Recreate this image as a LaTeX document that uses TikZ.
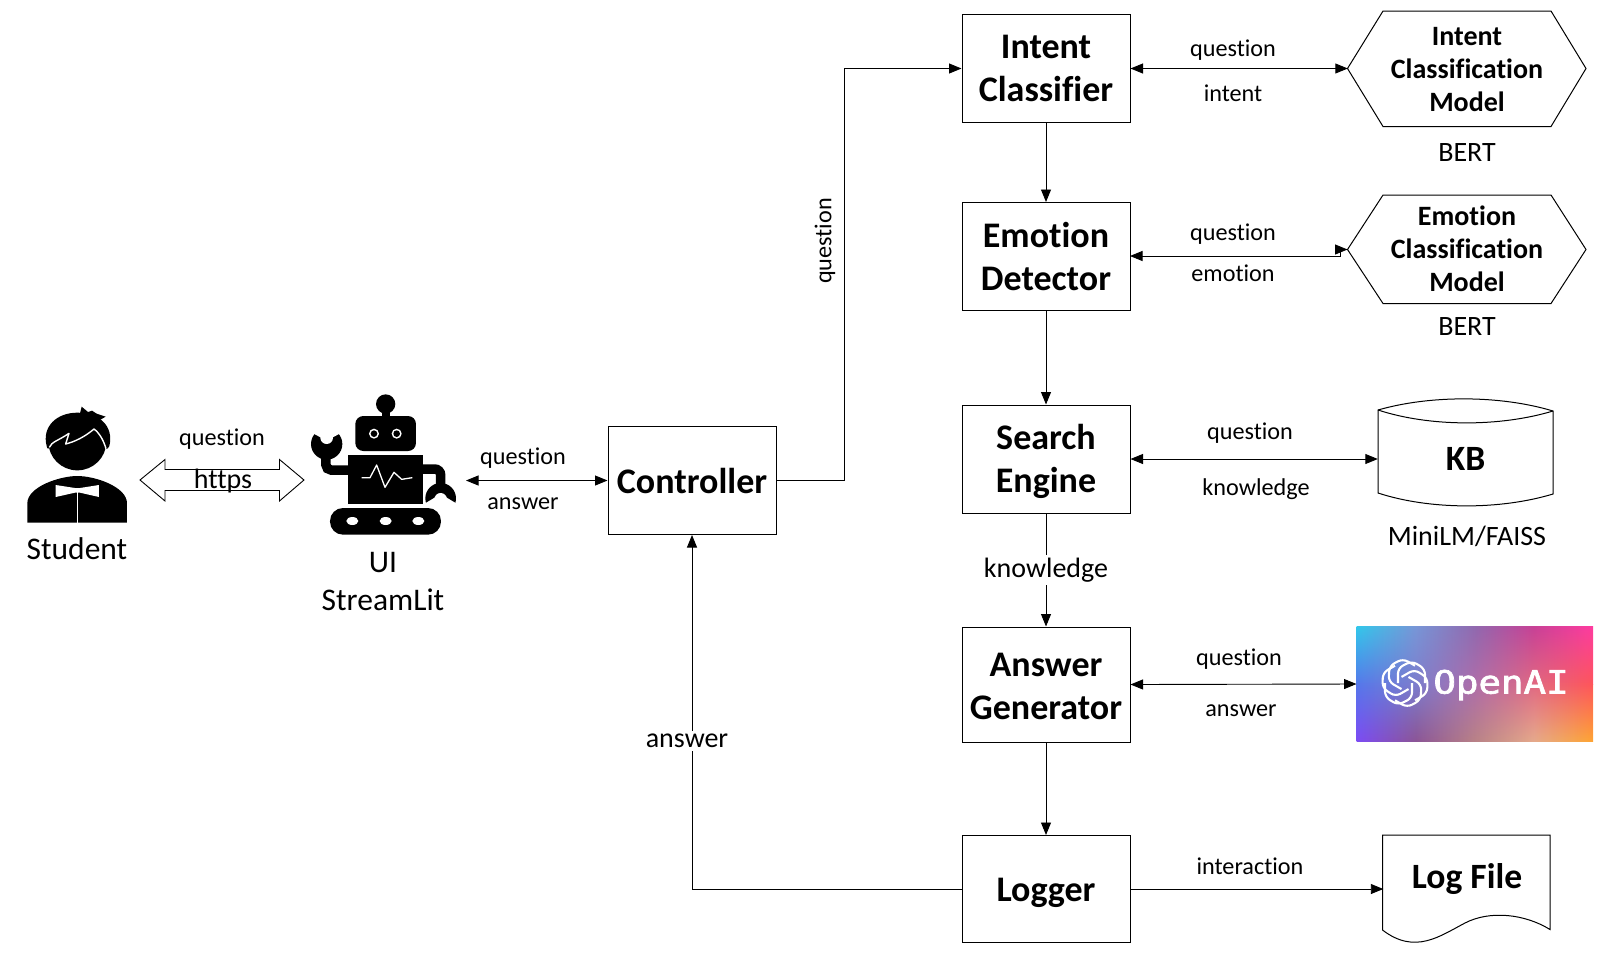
\documentclass[tikz,border=0pt]{standalone}
\usepackage{fontspec}
\setmainfont[Ligatures=NoCommon]{Carlito}
\newfontfamily\logofont[FakeBold=2]{DejaVu Sans Mono}
\usetikzlibrary{arrows.meta,fadings}
\definecolor{ta}{RGB}{50,200,235}\definecolor{tb}{RGB}{120,150,215}\definecolor{tc}{RGB}{145,105,175}\definecolor{td}{RGB}{200,65,150}\definecolor{te}{RGB}{255,60,160}
\definecolor{ma}{RGB}{85,120,235}\definecolor{mb}{RGB}{125,125,205}\definecolor{mc}{RGB}{175,110,170}\definecolor{md}{RGB}{225,105,130}\definecolor{me}{RGB}{255,85,90}
\definecolor{ba}{RGB}{125,75,245}\definecolor{bb}{RGB}{140,85,150}\definecolor{bc}{RGB}{185,130,135}\definecolor{bd}{RGB}{230,170,140}\definecolor{be}{RGB}{255,165,50}
\pgfdeclarehorizontalshading{rowtop}{100bp}{color(0bp)=(ta);color(25bp)=(ta);color(37.5bp)=(tb);color(50bp)=(tc);color(62.5bp)=(td);color(75bp)=(te);color(100bp)=(te)}
\pgfdeclarehorizontalshading{rowmid}{100bp}{color(0bp)=(ma);color(25bp)=(ma);color(37.5bp)=(mb);color(50bp)=(mc);color(62.5bp)=(md);color(75bp)=(me);color(100bp)=(me)}
\pgfdeclarehorizontalshading{rowbot}{100bp}{color(0bp)=(ba);color(25bp)=(ba);color(37.5bp)=(bb);color(50bp)=(bc);color(62.5bp)=(bd);color(75bp)=(be);color(100bp)=(be)}
\tikzset{
  x=1pt,y=-1pt,
  tipa/.tip={Triangle[length=12.5pt,width=10pt]},
  edge/.style={line width=0.9pt,draw=black},
  oneway/.style={edge,-tipa},
  twoway/.style={edge,tipa-tipa},
  box/.style={draw=black,line width=1pt,fill=white,inner sep=0pt,align=center,font=\fontsize{36}{43}\selectfont\bfseries,minimum width=168pt},
  outline/.style={draw=black,line width=1pt},
  modeltext/.style={inner sep=0pt,align=center,font=\fontsize{28}{33}\selectfont\bfseries,minimum width=238pt,minimum height=108pt},
  lab/.style={inner sep=0pt,font=\fontsize{24.2}{27}\selectfont},
  biglab/.style={inner sep=0pt,font=\fontsize{31.5}{38}\selectfont,align=center},
  midlab/.style={biglab,font=\fontsize{28}{30}\selectfont},
  whitelab/.style={midlab,fill=white,inner ysep=3pt},
  filelab/.style={inner sep=0pt,font=\fontsize{35.6}{40}\selectfont\bfseries,minimum height=60pt},
  icon/.style={fill=black,draw=none},
}
\begin{document}
\begin{tikzpicture}
\useasboundingbox (0,0) rectangle (1603,954);

% boxes
\node[box,minimum height=108pt] (intent) at (1046,68.5) {Intent\\Classifier};
\node[box,minimum height=108pt] (emotion) at (1046,256.5) {Emotion\\Detector};
\node[box,minimum height=108pt] (search) at (1046,459) {\rule{0pt}{30.5pt}Search\\Engine};
\node[box,minimum height=115pt] (answergen) at (1046,684.5) {\rule{0pt}{26.5pt}Answer\\Generator};
\node[box,minimum height=107pt,text height=24pt,text depth=0pt] (logger) at (1046,889) {Logger};
\node[box,minimum height=108pt] (ctrl) at (692,480.5) {Controller};

% hexagons
\draw[outline] (1347.5,68.5) -- (1383,11) -- (1551,11) -- (1586,68.5) -- (1551,126.5) -- (1383,126.5) -- cycle;
\node[modeltext] (hexi) at (1467,70) {Intent\\Classification\\Model};
\draw[outline] (1347.5,249.5) -- (1383,195) -- (1551,195) -- (1586,249.5) -- (1551,303.5) -- (1383,303.5) -- cycle;
\node[modeltext] (hexe) at (1467,249) {Emotion\\Classification\\Model};

% KB cylinder
\draw[outline] (1378,410) .. controls (1430,395) and (1500,395) .. (1553,411) -- (1553,494)
  .. controls (1500,510) and (1430,510) .. (1378,493) -- cycle;
\draw[outline] (1378,410) .. controls (1430,427) and (1500,427) .. (1553,411);
\node[filelab,minimum width=175pt] (kb) at (1465.5,459) {KB};

% Log file
\draw[outline] (1382.5,835) -- (1550,835) -- (1550,929.5)
  .. controls (1525,914) and (1490,910) .. (1465,923)
  .. controls (1440,936) and (1415,955) .. (1382.5,930) -- cycle;
\node[filelab,minimum width=167pt] (logfile) at (1467,879) {Log File};

% OpenAI tile
\shade[shading=rowtop] (1356.5,626.5) rectangle (1593,684.5);
\shade[shading=rowmid,path fading=north] (1356.5,626.5) rectangle (1593,684.5);
\shade[shading=rowbot] (1356.5,684) rectangle (1593,741.5);
\shade[shading=rowmid,path fading=south] (1356.5,684) rectangle (1593,741.5);
\coordinate (openai) at (1356.5,684);
\foreach \a in {0,60,...,300}{
  \draw[white,line width=2.1pt,rotate around={\a:(1405,683)},rounded corners=5.5pt]
    (1398,683) -- (1398,668) -- (1412,661) -- (1425,669) -- (1425,683);
}
\node[text=white,inner sep=0pt,font=\logofont\fontsize{32}{32}\selectfont,xscale=1.17] (openaitext) at (1501,685) {OpenAI};

% Student icon
\begin{scope}[shift={(0,370)},scale=1/3]
  \fill[icon] (82,458) -- (82,400) .. controls (82,350) and (180,318) .. (232,318) .. controls (285,318) and (381,350) .. (381,400) -- (381,458) -- cycle;
  \draw[white,line width=1.3pt] (232,356) -- (232,458);
  \fill[white] (167,345) -- (225,354) -- (240,354) -- (297,345) -- (297,381) -- (240,368) -- (225,368) -- (167,381) -- cycle;
  \fill[icon] (232,215) ellipse [x radius=87,y radius=86];
  \fill[icon] (140,228) .. controls (125,170) and (170,128) .. (232,128) .. controls (300,128) and (342,170) .. (328,228) .. controls (322,240) and (316,240) .. (312,226) -- (232,180) -- (150,226) .. controls (146,240) and (142,238) .. (140,228) -- cycle;
  \fill[icon] (240,130) -- (245,110) -- (264,126) -- (276,122) -- (290,131) -- (317,140) -- (296,152) -- cycle;
  \draw[white,line width=1.4pt,line join=round] (148,232) .. controls (155,215) and (175,212) .. (207,190) -- (197,222) .. controls (225,215) and (255,200) .. (282,177) .. controls (300,190) and (312,215) .. (318,236);
\end{scope}

% Robot icon
\begin{scope}[shift={(0,370)},scale=1/3]
  % left claw
  \fill[icon] (980,222) circle [radius=47];
  \fill[white] (980,212) -- (930,185) -- (930,160) -- (1030,160) -- (1030,185) -- cycle;
  \fill[white] (980,203) circle [radius=19];
  \draw[black,line width=9.5pt,rounded corners=5pt] (1048,300) -- (978,300) -- (978,245);
  \fill[icon] (1157,102) circle [radius=29];
  \fill[icon] (1145,105) rectangle (1170,150);
  \fill[icon,rounded corners=8pt] (1066,138) rectangle (1248,243);
  \fill[white] (1122,191) circle [radius=15] (1190,191) circle [radius=15];
  \fill[icon] (1122,191) circle [radius=10] (1190,191) circle [radius=10];
  % right claw
  \fill[icon] (1322,385) circle [radius=46];
  \fill[white] (1322,372) -- (1372,402) -- (1372,440) -- (1272,440) -- (1272,402) -- cycle;
  \fill[white] (1322,388) circle [radius=19];
  \draw[black,line width=9.5pt,rounded corners=6pt] (1265,297) -- (1322,297) -- (1322,345);
  \fill[icon] (1045,256) rectangle (1268,402);
  \draw[white,line width=1.3pt,line join=round] (1085,323) -- (1110,323) -- (1130,285) -- (1155,352) -- (1182,307) -- (1205,328) -- (1237,323);
  \fill[icon,rounded corners=13pt] (990,414) rectangle (1323,494);
  \fill[white] (1057,453) ellipse [x radius=18,y radius=12] (1157,453) ellipse [x radius=18,y radius=12] (1255,453) ellipse [x radius=18,y radius=12];
\end{scope}
\coordinate (robotport) at (466,480.5);

% https double arrow
\draw[line width=0.9pt,fill=white,line join=miter] (140,480) -- (165,459.5) -- (165,469.5) -- (279.5,469.5) -- (279.5,459.5) -- (304,480) -- (279.5,501) -- (279.5,490.5) -- (165,490.5) -- (165,501) -- cycle;

% connectors
\coordinate (bendc) at (844.5,480.5);
\draw[oneway] (ctrl.east) -- (bendc) -- (bendc |- intent.west) -- (intent.west);
\draw[twoway] (robotport) -- (ctrl.west);
\draw[oneway] (logger.west) -| (ctrl.south);
\draw[oneway] (intent.south) -- (emotion.north);
\draw[oneway] (emotion.south) -- (search.north);
\draw[oneway] (search.south) -- (answergen.north);
\draw[oneway] (answergen.south) -- (logger.north);
\draw[twoway] (intent.east) -- (hexi.west |- intent.east);
\coordinate (ejogb) at (1340.5,256);
\coordinate (etip) at (1130,256);
\coordinate (ejogt) at (1340.5,249.5);
\coordinate (ehex) at (1347.5,249.5);
\draw[twoway] (etip) -- (ejogb) -- (ejogt) -- (ehex);
\draw[twoway] (search.east) -- (kb.west |- search.east);
\draw[twoway] (answergen.east) -- (openai);
\draw[oneway] (logger.east) -- (logfile.west |- logger.east);

% labels
\node[lab] (l1) at (1233,50) {question};
\node[lab] (l2) at (1233,93) {intent};
\node[lab] (l3) at (1233,234) {question};
\node[lab] (l4) at (1233,273) {emotion};
\node[lab] (l5) at (1250,433) {question};
\node[lab] (l6) at (1256,489) {knowledge};
\node[lab] (l7) at (1239,659) {question};
\node[lab] (l8) at (1241,711) {answer};
\node[lab] (l9) at (1250,866) {interaction};
\node[lab,rotate=90] (l10) at (825,241) {question};
\node[lab] (l11) at (523,458) {question};
\node[lab] (l12) at (523,504) {answer};
\node[lab] (l13) at (222,439) {question};
\node[midlab] (l14) at (223,481) {https};
\node[whitelab] (l15) at (1046,570) {knowledge};
\node[whitelab] (l16) at (687,741) {answer};
\node[biglab] (s1) at (77,549) {Student};
\node[biglab] (s2) at (383,581) {UI\\StreamLit};
\node[midlab] (m1) at (1467,153) {BERT};
\node[midlab] (m2) at (1467,327) {BERT};
\node[midlab] (m3) at (1467,536) {MiniLM/FAISS};
\end{tikzpicture}
\end{document}
